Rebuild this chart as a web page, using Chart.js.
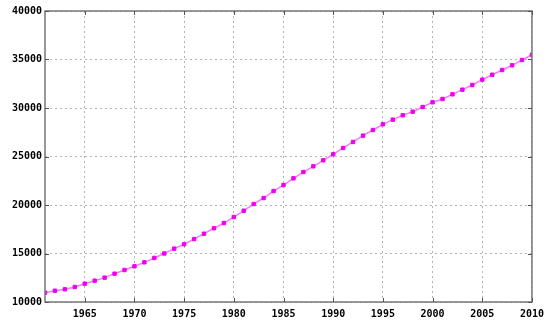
<!DOCTYPE html>
<html>
<head>
<meta charset="utf-8">
<script src="https://cdn.jsdelivr.net/npm/chart.js@4"></script>
<style>
  html, body { margin: 0; padding: 0; background: #fff; }
  #grafico { display: block; }
</style>
</head>
<body>
<canvas id="grafico" width="550" height="323"></canvas>
<script>
// anos e valores
var anos = [];
for (var a = 1961; a <= 2010; a++) anos.push(a);

var valores = [
  10960, 11165, 11310, 11550, 11890, 12200, 12510, 12920, 13300, 13680,
  14090, 14540, 15000, 15500, 15950, 16490, 17040, 17600, 18140, 18760,
  19410, 20100, 20720, 21440, 22060, 22750, 23400, 23990, 24610, 25230,
  25880, 26500, 27150, 27730, 28320, 28800, 29250, 29620, 30100, 30590,
  30930, 31410, 31890, 32370, 32920, 33430, 33920, 34400, 34950, 35490
];

var ticksX = [1965, 1970, 1975, 1980, 1985, 1990, 1995, 2000, 2005, 2010];
var ticksY = [10000, 15000, 20000, 25000, 30000, 35000, 40000];

var fonte = { family: 'DejaVu Sans Mono', size: 10, weight: 'bold' };

// moldura e marcas internas (estilo gnuplot)
var moldura = {
  id: 'moldura',
  afterDatasetsDraw: function(chart) {
    var ctx = chart.ctx, area = chart.chartArea;
    var sx = chart.scales.x, sy = chart.scales.y;
    ctx.save();
    ctx.strokeStyle = '#777';
    ctx.lineWidth = 1.5;
    ctx.strokeRect(area.left, area.top, area.right - area.left, area.bottom - area.top);
    ctx.lineWidth = 1;
    ctx.strokeStyle = '#555';
    ctx.beginPath();
    ticksX.forEach(function(v) {
      var px = Math.round(sx.getPixelForValue(v)) + 0.5;
      ctx.moveTo(px, area.bottom); ctx.lineTo(px, area.bottom - 4);
      ctx.moveTo(px, area.top); ctx.lineTo(px, area.top + 4);
    });
    ticksY.forEach(function(v) {
      var py = Math.round(sy.getPixelForValue(v)) + 0.5;
      ctx.moveTo(area.left, py); ctx.lineTo(area.left + 4, py);
      ctx.moveTo(area.right, py); ctx.lineTo(area.right - 4, py);
    });
    ctx.stroke();
    ctx.restore();
  }
};

var semSeparador = function(v) { return String(v); };

var ctx = document.getElementById('grafico').getContext('2d');
var myChart = new Chart(ctx, {
  type: 'line',
  data: {
    labels: anos,
    datasets: [{
      data: valores,
      borderColor: '#ff77ff',
      borderWidth: 1.5,
      fill: false,
      tension: 0,
      pointStyle: 'rect',
      pointRadius: 2.4,
      pointBackgroundColor: '#ee00ee',
      pointBorderColor: '#ee00ee',
      pointBorderWidth: 1
    }]
  },
  options: {
    responsive: false,
    animation: false,
    layout: { padding: { top: 11, right: 16, left: 0, bottom: 0 } },
    plugins: { legend: { display: false }, tooltip: { enabled: false } },
    scales: {
      x: {
        type: 'linear',
        min: 1961,
        max: 2010,
        afterBuildTicks: function(scale) {
          scale.ticks = ticksX.map(function(v) { return { value: v }; });
        },
        afterFit: function(scale) { scale.height = 21; },
        ticks: { font: fonte, color: '#000', padding: 6, maxRotation: 0, callback: semSeparador },
        grid: { color: '#b4b4b4', drawTicks: false, tickLength: 0 },
        border: { display: false, dash: [2, 3] }
      },
      y: {
        min: 10000,
        max: 40000,
        afterBuildTicks: function(scale) {
          scale.ticks = ticksY.map(function(v) { return { value: v }; });
        },
        afterFit: function(scale) { scale.width = 45; },
        ticks: { font: fonte, color: '#000', padding: 3, callback: semSeparador },
        grid: { color: '#b4b4b4', drawTicks: false, tickLength: 0 },
        border: { display: false, dash: [2, 3] }
      }
    }
  },
  plugins: [moldura]
});
</script>
</body>
</html>
